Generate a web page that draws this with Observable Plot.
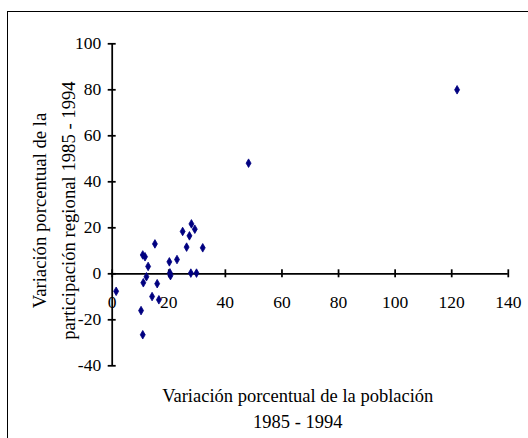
<!DOCTYPE html>
<html><head><meta charset="utf-8">
<script src="https://cdn.jsdelivr.net/npm/d3@7"></script>
<script src="https://cdn.jsdelivr.net/npm/@observablehq/plot@0.6"></script>
<style>
html,body{margin:0;padding:0;background:#fff;}
#wrap{position:relative;width:528px;height:438px;overflow:hidden;}
#chart{position:absolute;left:0;top:0;}
#chart svg text{font-family:"Liberation Serif","Times New Roman",serif;}
#frame{position:absolute;left:7px;top:10.5px;width:700px;height:700px;border-left:1.5px solid #000;border-top:1.5px solid #000;pointer-events:none;}
</style></head><body>
<div id="wrap"><div id="chart"></div><div id="frame"></div></div>
<script>
// Variación porcentual de la población 1985-1994 (x) vs participación regional (y)
const popChange   = [121.9, 48.2, 28.0, 29.2, 24.9, 27.3, 15.1, 26.3, 32.0, 10.8, 11.6, 12.7, 20.2, 22.9, 12.1, 11.0, 15.9, 20.4, 20.6, 27.8, 29.8, 1.4, 14.1, 16.5, 10.2, 10.8];
const shareChange = [80.0, 48.1, 21.7, 19.4, 18.4, 16.5, 13.0, 11.6, 11.3, 8.2, 7.4, 3.2, 5.2, 6.2, -1.3, -3.9, -4.3, 0.4, -0.8, 0.3, 0.3, -7.6, -9.9, -11.3, -16.0, -26.5];
const xTicks = [0, 20, 40, 60, 80, 100, 120, 140];
const yTicks = [-40, -20, 0, 20, 40, 60, 80, 100];
const xTitle = "Variación porcentual de la población\n1985 - 1994";
const yTitle = "Variación porcentual de la\nparticipación regional 1985 - 1994";

const points = popChange.map((x, i) => ({x, y: shareChange[i]}));
const font = "Liberation Serif";

const chart = Plot.plot({
  width: 528,
  height: 438,
  marginLeft: 111.7,
  marginRight: 20.2,
  marginTop: 43.3,
  marginBottom: 72.7,
  style: {fontFamily: font, background: "transparent", color: "#000"},
  x: {domain: [0, 140], axis: null},
  y: {domain: [-40, 100], axis: null},
  marks: [
    Plot.ruleY([0], {x1: 0, x2: 140, stroke: "#000", strokeWidth: 1.75}),
    Plot.ruleX([0], {y1: -40, y2: 100, stroke: "#000", strokeWidth: 1.75}),
    Plot.ruleX(xTicks, {x: d => d, y1: 0, y2: 0, insetTop: -4, insetBottom: -4, stroke: "#000", strokeWidth: 1.75}),
    Plot.ruleY(yTicks, {y: d => d, x1: 0, x2: 0, insetLeft: -4, insetRight: -4, stroke: "#000", strokeWidth: 1.75}),
    Plot.text(xTicks, {x: d => d, y: 0, dy: 28.5, text: d => String(d), fontSize: 17.5, fontFamily: font, fill: "#000"}),
    Plot.text(yTicks, {x: 0, y: d => d, dx: -11, text: d => String(d), textAnchor: "end", fontSize: 17.5, fontFamily: font, fill: "#000"}),
    Plot.dot(points, {x: "x", y: "y", symbol: "diamond", r: 2.6, fill: "#000080", stroke: "#000080", strokeWidth: 0.8}),
    Plot.text([xTitle], {frameAnchor: "bottom", text: d => d, dx: -12.5, dy: 40.7, textAnchor: "middle", lineAnchor: "middle", lineHeight: 1.42, fontSize: 18.5, fontFamily: font, fill: "#000"}),
    Plot.text([yTitle], {frameAnchor: "left", text: d => d, rotate: -90, dx: -60.7, dy: 5.7, textAnchor: "middle", lineAnchor: "middle", lineHeight: 1.5, fontSize: 18.7, fontFamily: font, fill: "#000"})
  ]
});
document.getElementById("chart").appendChild(chart);
</script>
</body></html>
